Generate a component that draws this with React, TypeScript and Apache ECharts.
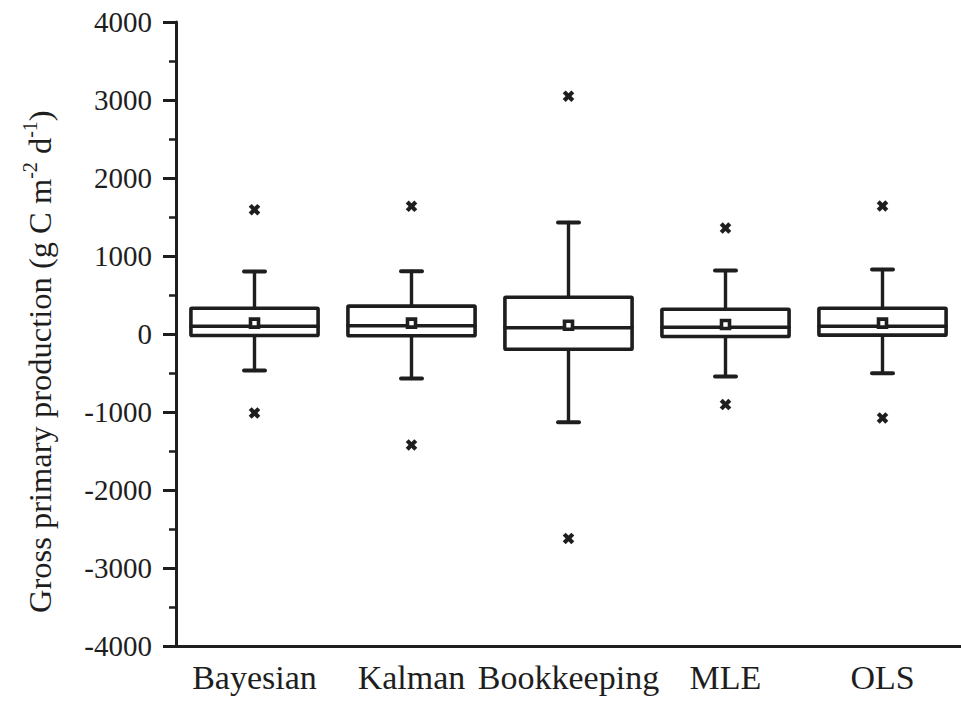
import React, { useEffect, useRef } from "react";
import * as echarts from "echarts";

const categories = ["Bayesian", "Kalman", "Bookkeeping", "MLE", "OLS"];
const whiskerLow = [-469, -571, -1132, -546, -503];
const q1 = [-19, -23, -195, -32, -15];
const median = [100, 105, 80, 87, 100];
const q3 = [331, 357, 472, 318, 331];
const whiskerHigh = [802, 806, 1431, 815, 828];
const mean = [139, 139, 113, 122, 139];
const outlierHigh = [1594, 1637, 3049, 1358, 1641];
const outlierLow = [-1012, -1422, -2621, -905, -1076];
const yTicks = { min: -4000, max: 4000, interval: 1000 };

const INK = "#1e1e1e";
const FONT = "'Liberation Serif', 'Times New Roman', serif";

export default function App() {
  const ref = useRef<HTMLDivElement>(null);
  useEffect(() => {
    if (!ref.current) return;
    const chart = echarts.init(ref.current, undefined, { renderer: "svg" });
    const boxData = categories.map((_, i) => [
      i,
      whiskerLow[i],
      q1[i],
      median[i],
      q3[i],
      whiskerHigh[i],
      mean[i],
    ]);
    const outData: number[][] = [];
    categories.forEach((_, i) => {
      outData.push([i, outlierHigh[i]]);
      outData.push([i, outlierLow[i]]);
    });
    chart.setOption({
      animation: false,
      backgroundColor: "#ffffff",
      grid: { left: 176, right: -6, top: 22, bottom: 62, containLabel: false },
      graphic: [
        {
          type: "text",
          x: 40,
          y: 613,
          rotation: Math.PI / 2,
          style: {
            text: "{n|Gross primary production (g C m}{s|-2}{n| d}{s|-1}{n|)}",
            align: "left",
            verticalAlign: "middle",
            fill: INK,
            rich: {
              n: { fontFamily: FONT, fontSize: 32.5, lineHeight: 40, fill: INK },
              s: { fontFamily: FONT, fontSize: 20, lineHeight: 20, verticalAlign: "top", fill: INK },
            },
          },
        },
      ],
      xAxis: {
        type: "category",
        data: categories,
        boundaryGap: true,
        axisLine: { onZero: false, lineStyle: { color: INK, width: 3 } },
        axisTick: { alignWithLabel: true, length: 13, lineStyle: { color: INK, width: 3 } },
        axisLabel: { color: INK, fontFamily: FONT, fontSize: 34, margin: 14, interval: 0 },
        splitLine: { show: false },
      },
      yAxis: {
        type: "value",
        min: yTicks.min,
        max: yTicks.max,
        interval: yTicks.interval,
        axisLine: { show: true, lineStyle: { color: INK, width: 3 } },
        axisTick: { show: true, length: 13, lineStyle: { color: INK, width: 3 } },
        minorTick: { show: true, splitNumber: 2, length: 7, lineStyle: { color: INK, width: 2.5 } },
        axisLabel: {
          color: INK,
          fontFamily: FONT,
          fontSize: 29,
          margin: 24,
          formatter: (v: number) => String(v),
        },
        splitLine: { show: false },
      },
      series: [
        {
          type: "custom",
          data: boxData,
          renderItem: (params: any, api: any) => {
            const x = api.value(0);
            const pLow = api.coord([x, api.value(1)]);
            const pQ1 = api.coord([x, api.value(2)]);
            const pMed = api.coord([x, api.value(3)]);
            const pQ3 = api.coord([x, api.value(4)]);
            const pHigh = api.coord([x, api.value(5)]);
            const pMean = api.coord([x, api.value(6)]);
            const cx = pMed[0];
            const bw = api.size([1, 0])[0] * 0.81;
            const cap = 21;
            const line = (x1: number, y1: number, x2: number, y2: number, w: number) => ({
              type: "line",
              shape: { x1, y1, x2, y2 },
              style: { stroke: INK, lineWidth: w, lineCap: "round" },
            });
            return {
              type: "group",
              children: [
                line(cx, pQ3[1], cx, pHigh[1], 3.4),
                line(cx, pQ1[1], cx, pLow[1], 3.4),
                line(cx - cap / 2, pHigh[1], cx + cap / 2, pHigh[1], 4),
                line(cx - cap / 2, pLow[1], cx + cap / 2, pLow[1], 4),
                {
                  type: "rect",
                  shape: { x: cx - bw / 2, y: pQ3[1], width: bw, height: pQ1[1] - pQ3[1], r: 1 },
                  style: { fill: "#ffffff", stroke: INK, lineWidth: 3.6 },
                },
                line(cx - bw / 2, pMed[1], cx + bw / 2, pMed[1], 3.4),
                {
                  type: "rect",
                  shape: { x: cx - 4, y: pMean[1] - 4, width: 8, height: 8 },
                  style: { fill: "#ffffff", stroke: INK, lineWidth: 3.6 },
                },
              ],
            };
          },
          z: 2,
        },
        {
          type: "custom",
          data: outData,
          renderItem: (params: any, api: any) => {
            const p = api.coord([api.value(0), api.value(1)]);
            const d = 4.3;
            return {
              type: "group",
              children: [
                {
                  type: "line",
                  shape: { x1: p[0] - d, y1: p[1] - d, x2: p[0] + d, y2: p[1] + d },
                  style: { stroke: INK, lineWidth: 4.2 },
                },
                {
                  type: "line",
                  shape: { x1: p[0] - d, y1: p[1] + d, x2: p[0] + d, y2: p[1] - d },
                  style: { stroke: INK, lineWidth: 4.2 },
                },
              ],
            };
          },
          z: 3,
        },
      ],
    });
    return () => chart.dispose();
  }, []);
  return (
    <div
      ref={ref}
      style={{ position: "fixed", left: 0, top: 0, width: 961, height: 708, background: "#fff" }}
    />
  );
}
